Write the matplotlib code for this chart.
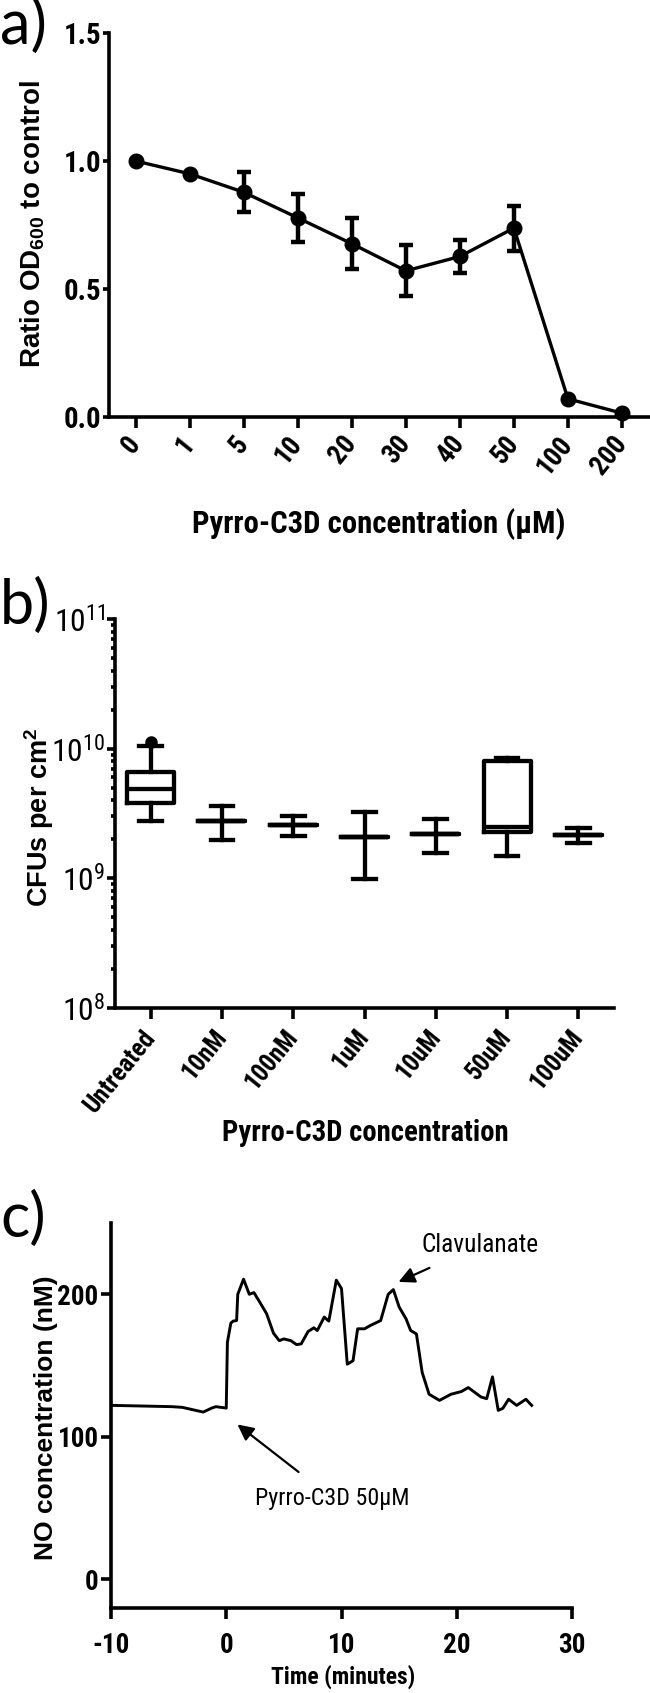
import matplotlib
matplotlib.use('Agg')
import matplotlib.pyplot as plt
from matplotlib import font_manager
from matplotlib.font_manager import FontProperties
from matplotlib.textpath import TextPath
from matplotlib.ticker import FixedLocator, FixedFormatter, LogLocator, NullFormatter
import numpy as np

plt.rcParams['font.family'] = ['Liberation Sans', 'DejaVu Sans']
plt.rcParams['axes.unicode_minus'] = False

# ---- look for an installed narrow / condensed sans face (reference uses a narrow bold face)
_fonts = font_manager.fontManager.ttflist
NARROW_NAME = None
for pref in ['Liberation Sans Narrow', 'Arial Narrow', 'Nimbus Sans Narrow',
             'Roboto Condensed', 'Open Sans Condensed', 'Noto Sans Condensed']:
    if any(f.name == pref for f in _fonts):
        NARROW_NAME = pref
        break
NARROW = ([NARROW_NAME] if NARROW_NAME else []) + ['Liberation Sans', 'DejaVu Sans']

plt.rcParams['mathtext.fontset'] = 'custom'
plt.rcParams['mathtext.rm'] = NARROW[0]
plt.rcParams['mathtext.bf'] = 'Liberation Sans:bold'
plt.rcParams['mathtext.it'] = 'Liberation Sans:italic'


def fit(s, target_px, family, weight='bold'):
    """font size (pt) giving an ink width of target_px at 100 dpi"""
    fp = FontProperties(family=family, weight=weight, size=100)
    w = TextPath((0, 0), s, prop=fp).get_extents().width
    return target_px * 72.0 / w


# ---------------- Panel a data ----------------
conc_labels = ['0', '1', '5', '10', '20', '30', '40', '50', '100', '200']
ratio_od = [1.0, 0.95, 0.878, 0.778, 0.677, 0.571, 0.627, 0.738, 0.071, 0.015]
ratio_err = [0.0, 0.0, 0.078, 0.093, 0.099, 0.100, 0.063, 0.088, 0.0, 0.0]

# ---------------- Panel b data ----------------
groups = ['Untreated', '10nM', '100nM', '1uM', '10uM', '50uM', '100uM']
cfu_whislo = [2.77e9, 1.97e9, 2.12e9, 0.99e9, 1.58e9, 1.49e9, 1.86e9]
cfu_q1 = [3.80e9, 2.79e9, 2.58e9, 2.07e9, 2.18e9, 2.29e9, 2.14e9]
cfu_med = [4.87e9, 2.79e9, 2.58e9, 2.07e9, 2.18e9, 2.47e9, 2.14e9]
cfu_q3 = [6.60e9, 2.79e9, 2.58e9, 2.07e9, 2.18e9, 8.07e9, 2.14e9]
cfu_whishi = [1.045e10, 3.63e9, 3.05e9, 3.22e9, 2.86e9, 8.44e9, 2.44e9]
cfu_fliers = [[1.12e10], [], [], [], [], [], []]
log_ticks = [1e8, 1e9, 1e10, 1e11]
log_tick_labels = [r'$\mathregular{10^{8}}$', r'$\mathregular{10^{9}}$',
                   r'$\mathregular{10^{10}}$', r'$\mathregular{10^{11}}$']

# ---------------- Panel c data ----------------
time_min = [-9.9, -4.7, -3.8, -2.0, -1.26, -0.9, 0.0, 0.1, 0.4, 0.6, 0.9, 1.0, 1.5,
            2.0, 2.4, 2.9, 3.5, 4.1, 4.6, 5.0, 5.6, 6.1, 6.5, 7.1, 7.6, 7.9, 8.5,
            8.9, 9.55, 10.0, 10.5, 11.0, 11.4, 12.0, 12.5, 13.4, 14.05, 14.5, 15.0,
            15.6, 16.0, 16.5, 17.0, 17.6, 18.5, 19.5, 20.4, 21.0, 22.1, 22.6, 23.1,
            23.6, 24.0, 24.5, 25.2, 26.0, 26.5]
no_nM = [122.1, 121.2, 120.7, 117.4, 120.2, 121.2, 120.2, 166.4, 179.8, 181.2, 181.6,
         200.0, 210.6, 200.0, 201.2, 194.6, 186.4, 172.7, 167.5, 168.7, 167.5, 164.7,
         165.2, 173.9, 176.5, 174.6, 184.0, 181.2, 209.9, 204.0, 151.0, 153.4, 175.8,
         175.8, 178.1, 181.6, 200.0, 203.3, 191.1, 182.8, 174.6, 172.2, 145.2, 129.9,
         125.6, 129.9, 131.8, 134.6, 128.0, 126.8, 142.1, 118.6, 120.0, 126.4, 122.1,
         126.4, 122.1]

W, H = 650, 1693
fig = plt.figure(figsize=(W / 100, H / 100), dpi=100)


def rect(left, right, top, bottom):
    return [left / W, 1 - bottom / H, (right - left) / W, (bottom - top) / H]


def style_ticklabels(labels, size, weight='bold'):
    for lab in labels:
        lab.set_family(NARROW)
        lab.set_fontsize(size)
        lab.set_fontweight(weight)


SPW = 2.6  # spine width (pt)
ROT = 51

TICK_SIZE = min(fit('200', 39, NARROW), 26)

# ================= Panel a =================
axa = fig.add_axes(rect(108.6, 649, 33, 417))
xa = np.arange(len(conc_labels))
axa.errorbar(xa, ratio_od, yerr=ratio_err, color='black', lw=2.4, marker='o',
             markersize=10.5, elinewidth=3.2, capsize=5.0, capthick=3.2, clip_on=False,
             zorder=3)
axa.set_xlim(-0.5, 9.5)
axa.set_ylim(0, 1.5)
axa.set_yticks([0.0, 0.5, 1.0, 1.5])
axa.set_yticklabels(['0.0', '0.5', '1.0', '1.5'])
axa.set_xticks(xa)
axa.set_xticklabels(conc_labels, rotation=ROT, ha='right', va='center',
                    rotation_mode='anchor')
for s in ['top', 'right']:
    axa.spines[s].set_visible(False)
for s in ['left', 'bottom']:
    axa.spines[s].set_linewidth(SPW)
axa.tick_params(axis='y', length=4, width=SPW, pad=1)
axa.tick_params(axis='x', length=8, width=SPW, pad=8)
style_ticklabels(axa.get_xticklabels(), TICK_SIZE)
style_ticklabels(axa.get_yticklabels(), TICK_SIZE * 1.06)
_s = 'Pyrro-C3D concentration (\u03bcM)'
fig.text(379 / W, 1 - 524 / H, _s, ha='center', va='center',
         fontsize=min(fit(_s, 370, NARROW), 26), fontweight='bold', family=NARROW)
fig.text(33 / W, 1 - 224 / H, r'Ratio OD$_{\mathbf{600}}$ to control', ha='center',
         va='center', rotation=90, fontsize=20, fontweight='bold')

# ================= Panel b =================
axb = fig.add_axes(rect(115, 614, 619, 1008))
stats = []
for i in range(len(groups)):
    stats.append(dict(label=groups[i], whislo=cfu_whislo[i], q1=cfu_q1[i],
                      med=cfu_med[i], q3=cfu_q3[i], whishi=cfu_whishi[i],
                      fliers=cfu_fliers[i]))
blw = 3.1
axb.bxp(stats, positions=np.arange(len(groups)), widths=0.66, capwidths=0.32,
        boxprops=dict(color='black', lw=blw),
        whiskerprops=dict(color='black', lw=blw),
        capprops=dict(color='black', lw=blw),
        medianprops=dict(color='black', lw=blw),
        flierprops=dict(marker='o', markersize=8, markerfacecolor='black',
                        markeredgecolor='black'),
        showfliers=True, manage_ticks=False)
axb.set_yscale('log')
axb.set_ylim(1e8, 1e11)
axb.set_xlim(-0.5, 6.5)
axb.yaxis.set_major_locator(FixedLocator(log_ticks))
axb.yaxis.set_major_formatter(FixedFormatter(log_tick_labels))
axb.yaxis.set_minor_locator(LogLocator(base=10, subs=np.arange(2, 10)))
axb.yaxis.set_minor_formatter(NullFormatter())
axb.set_xticks(np.arange(len(groups)))
axb.set_xticklabels(groups, rotation=ROT, ha='right', va='center',
                    rotation_mode='anchor')
for s in ['top', 'right']:
    axb.spines[s].set_visible(False)
for s in ['left', 'bottom']:
    axb.spines[s].set_linewidth(SPW)
axb.tick_params(axis='y', which='major', length=6, width=SPW, pad=1)
axb.tick_params(axis='y', which='minor', length=3, width=SPW)
axb.tick_params(axis='x', length=8, width=SPW, pad=10)
style_ticklabels(axb.get_xticklabels(), min(fit('Untreated', 96, NARROW), 26))
style_ticklabels(axb.get_yticklabels(), min(fit('10', 27, NARROW, 'normal'), 26),
                 weight='normal')
_s = 'Pyrro-C3D concentration'
fig.text(365 / W, 1 - 1133 / H, _s, ha='center', va='center',
         fontsize=min(fit(_s, 283, NARROW), 26), fontweight='bold', family=NARROW)
fig.text(39 / W, 1 - 817 / H, r'CFUs per cm$^{\mathbf{2}}$', ha='center', va='center',
         rotation=90, fontsize=19.5, fontweight='bold')

# ================= Panel c =================
axc = fig.add_axes(rect(111, 572, 1223, 1608))
axc.plot(time_min, no_nM, color='black', lw=2.1)
axc.set_xlim(-10, 30)
axc.set_ylim(-20, 250)
axc.set_xticks([-10, 0, 10, 20, 30])
axc.set_yticks([0, 100, 200])
for s in ['top', 'right']:
    axc.spines[s].set_visible(False)
for s in ['left', 'bottom']:
    axc.spines[s].set_linewidth(SPW)
axc.tick_params(axis='y', length=7, width=SPW, pad=2)
axc.tick_params(axis='x', length=8, width=SPW, pad=9)
style_ticklabels(axc.get_xticklabels() + axc.get_yticklabels(), TICK_SIZE)
_s = 'Clavulanate'
axc.annotate(_s, xy=(14.95, 208.7), xytext=(22.0, 234.5),
             ha='center', va='center', fontsize=min(fit(_s, 115, NARROW, 'normal'), 24),
             family=NARROW,
             arrowprops=dict(arrowstyle='-|>', color='black', lw=1.6,
                             mutation_scale=24, shrinkA=14, shrinkB=0))
_s = 'Pyrro-C3D 50\u03bcM'
axc.annotate(_s, xy=(0.97, 108.7), xytext=(9.2, 57),
             ha='center', va='center', fontsize=min(fit(_s, 151, NARROW, 'normal'), 24),
             family=NARROW,
             arrowprops=dict(arrowstyle='-|>', color='black', lw=1.6,
                             mutation_scale=24, shrinkA=14, shrinkB=0))
_s = 'Time (minutes)'
fig.text(343 / W, 1 - 1677 / H, _s, ha='center', va='center',
         fontsize=min(fit(_s, 143, NARROW), 24), fontweight='bold', family=NARROW)
fig.text(45.6 / W, 1 - 1418 / H, 'NO concentration (nM)', ha='center', va='center',
         rotation=90, fontsize=19, fontweight='bold')

# ================= Panel letters =================
for letter, top in [('a)', -2), ('b)', 578), ('c)', 1191)]:
    fig.text(0.0, 1 - top / H, letter, ha='left', va='top', fontsize=44,
             family=['Lato', 'DejaVu Sans'])

fig.savefig('out.png', dpi=100)
